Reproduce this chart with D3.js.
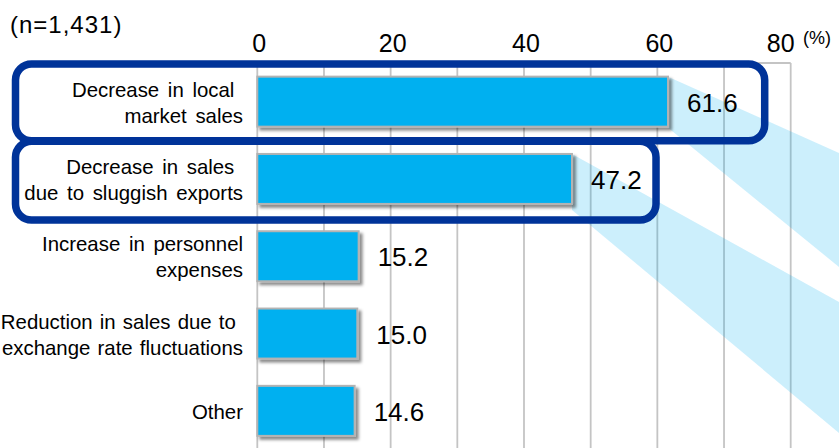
<!DOCTYPE html>
<html>
<head>
<meta charset="utf-8">
<script src="https://cdn.jsdelivr.net/npm/d3@7/dist/d3.min.js"></script>
<style>
  html, body { margin: 0; padding: 0; background: #fff; }
  svg { display: block; font-family: "Liberation Sans", Arial, sans-serif; }
  .cat { white-space: pre; word-spacing: 3px; }
  .cat.long { word-spacing: 1.5px; }
</style>
</head>
<body>
<svg id="chart" width="839" height="448"></svg>
<script>
// Reasons for worsening business results (multiple answers, %)
const categories = [
  "Decrease in local |market sales",
  "Decrease in sales |due to sluggish exports",
  "Increase in personnel|expenses",
  "Reduction in sales due to |exchange rate fluctuations",
  "Other"
];
const values = [61.6, 47.2, 15.2, 15.0, 14.6];
const tickValues = [0, 20, 40, 60, 80];
const gridValues = [0, 10, 20, 30, 40, 50, 60, 70, 80];
const sampleNote = "(n=1,431)";
const unitLabel = "(%)";
// Categories singled out with a framed call-out, and how far right each frame reaches (in %)
const highlighted = [0, 1];
const highlightExtent = [76.1, 59.8];

const W = 839, H = 448;
const plot = { left: 257.3, right: 790.7, top: 63, bottom: 449.5 };

const svg = d3.select("#chart");

const x = d3.scaleLinear().domain([0, 80]).range([plot.left, plot.right]);
const y = d3.scaleBand()
  .domain(d3.range(categories.length))
  .range([plot.top, plot.bottom])
  .paddingInner(0.353)
  .paddingOuter(0.1765);

const defs = svg.append("defs");
const shadow = defs.append("filter").attr("id", "barShadow")
  .attr("x", "-10%").attr("y", "-20%").attr("width", "130%").attr("height", "160%");
shadow.append("feDropShadow")
  .attr("dx", 3).attr("dy", 3).attr("stdDeviation", 1.6)
  .attr("flood-color", "#000").attr("flood-opacity", 0.45);

// Vertical gridlines and the top edge of the plot frame
svg.append("g").selectAll("line").data(gridValues).join("line")
  .attr("x1", d => x(d)).attr("x2", d => x(d))
  .attr("y1", plot.top).attr("y2", H + 2)
  .attr("stroke", "#c4c4c4").attr("stroke-width", 1.8);
svg.append("line")
  .attr("x1", x(0)).attr("x2", x(80))
  .attr("y1", plot.top).attr("y2", plot.top)
  .attr("stroke", "#c4c4c4").attr("stroke-width", 1.8);

// Light-blue beams fanning out from the two highlighted bars
const beamTargets = [[153, 267], [302, 433]];
svg.append("g").selectAll("path").data(highlighted).join("path")
  .attr("d", (i, k) => {
    const x0 = x(values[i]);
    const t = y(i), b = y(i) + y.bandwidth() + (k === 1 ? 6 : 1);
    return `M${x0},${t}L${W},${beamTargets[k][0]}L${W},${beamTargets[k][1]}L${x0},${b}Z`;
  })
  .attr("fill", "#00b0f0").attr("fill-opacity", 0.2);

// Bars
svg.append("g").selectAll("rect").data(values).join("rect")
  .attr("x", x(0))
  .attr("y", (d, i) => y(i))
  .attr("width", d => x(d) - x(0))
  .attr("height", y.bandwidth())
  .attr("fill", "#00b0f0")
  .attr("stroke", "#b3b3b3").attr("stroke-width", 2)
  .attr("filter", "url(#barShadow)");

// Value labels
svg.append("g").selectAll("text").data(values).join("text")
  .attr("x", d => x(d) + 19)
  .attr("y", (d, i) => y(i) + y.bandwidth() / 2 + 10)
  .attr("font-size", 26).attr("fill", "#000")
  .text(d => d.toFixed(1));

// Category labels (wrapped onto one or two lines)
const catG = svg.append("g");
categories.forEach((c, i) => {
  const lines = c.split("|");
  const cy = y(i) + y.bandwidth() / 2;
  const longest = d3.max(lines, l => l.length);
  const t = catG.append("text").attr("class", longest > 25 ? "cat long" : "cat")
    .attr("text-anchor", "end").attr("font-size", 20.4).attr("fill", "#000");
  if (lines.length === 1) {
    t.append("tspan").attr("x", 243).attr("y", cy + 8).text(lines[0]);
  } else {
    lines.forEach((ln, j) => {
      t.append("tspan").attr("x", 243).attr("y", cy - 5 + j * 26).text(ln);
    });
  }
});

// Axis tick labels across the top (the last one nudged left to clear the unit)
svg.append("g").selectAll("text").data(tickValues).join("text")
  .attr("x", (d, i) => i === tickValues.length - 1 ? x(d) - 10 : x(d) + 2)
  .attr("y", 52)
  .attr("text-anchor", "middle").attr("font-size", 25).attr("fill", "#000")
  .text(d => d);

svg.append("text").attr("x", 803).attr("y", 44)
  .attr("font-size", 18).attr("fill", "#000").text(unitLabel);
svg.append("text").attr("x", 10).attr("y", 33)
  .attr("font-size", 24).attr("letter-spacing", 1).attr("fill", "#000").text(sampleNote);

// Rounded call-out frames around the highlighted categories
const step = y.step(), gap = step - y.bandwidth();
svg.append("g").selectAll("rect").data(highlighted).join("rect")
  .attr("x", 15.5)
  .attr("y", (i, k) => y(i) - gap / 2 + 1)
  .attr("width", (i, k) => x(highlightExtent[k]) - 15.5)
  .attr("height", (i, k) => step + (k === 0 ? -0.5 : 1.5))
  .attr("rx", 16).attr("ry", 16)
  .attr("fill", "none")
  .attr("stroke", "#003399").attr("stroke-width", 7.5);
</script>
</body>
</html>
